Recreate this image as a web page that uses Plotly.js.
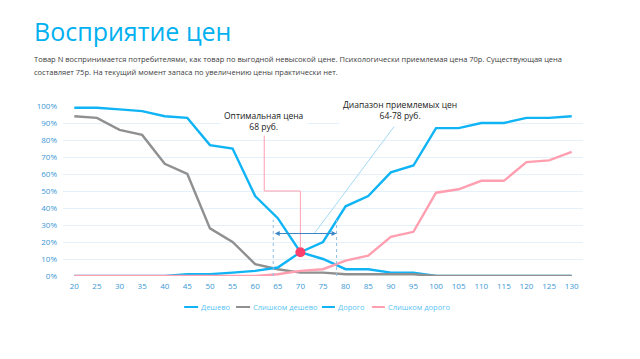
<!DOCTYPE html>
<html>
<head>
<meta charset="utf-8">
<script src="https://cdn.plot.ly/plotly-3.0.1.min.js"></script>
<style>
  html, body { margin: 0; padding: 0; background: #fff; }
  #chart { width: 640px; height: 359px; }
</style>
</head>
<body>
<div id="chart"></div>
<script>
// Price points (rubles)
const prices = [20, 25, 30, 35, 40, 45, 50, 55, 60, 65, 70, 75, 80, 85, 90, 95, 100, 105, 110, 115, 120, 125, 130];

// Share of respondents, %
const cheap        = [99, 99, 98, 97, 94, 93, 77, 75, 47, 34, 14, 10, 4, 4, 2, 2, 0, 0, 0, 0, 0, 0, 0];
const tooCheap     = [94, 93, 86, 83, 66, 60, 28, 20, 7, 4, 2, 2, 1, 1, 1, 1, 0, 0, 0, 0, 0, 0, 0];
const expensive    = [0, 0, 0, 0, 0, 1, 1, 2, 3, 5, 14, 20, 41, 47, 61, 65, 87, 87, 90, 90, 93, 93, 94];
const tooExpensive = [0, 0, 0, 0, 0, 0, 0, 0, 0, 1, 3, 4, 9, 12, 23, 26, 49, 51, 56, 56, 67, 68, 73];

const seriesNames  = ['Дешево', 'Слишком дешево', 'Дорого', 'Слишком дорого'];
const seriesColors = ['#10b4f5', '#909090', '#10b4f5', '#ff9fb0'];

// Key price points
const optimalPrice = 68;
const optimalPointX = 70;
const optimalPointY = 14;
const rangeLow = 64;
const rangeHigh = 78;

const pct = a => a.map(v => v / 100);
const seriesValues = [cheap, tooCheap, expensive, tooExpensive];

const traces = seriesValues.map((vals, i) => ({
  x: prices, y: pct(vals), name: seriesNames[i], mode: 'lines',
  line: { color: seriesColors[i], width: 2.4 }, cliponaxis: false, showlegend: false
}));
traces.push({
  x: [optimalPointX], y: [optimalPointY / 100], mode: 'markers', showlegend: false,
  marker: { color: '#ff3f6c', size: 10 }, cliponaxis: false, hoverinfo: 'skip'
});

// plot area geometry (pixels)
const plotL = 62.7, plotW = 520.7, plotB = 276, plotH = 170;
const px = v => (v - plotL) / plotW;
const py = v => (plotB - v) / plotH;

const tickBlue = '#3a97d4';

// compact legend: short line swatch + label
const legendItems = [
  { x0: 184, x1: 198, tx: 199 },
  { x0: 236, x1: 250, tx: 251 },
  { x0: 322, x1: 335, tx: 336.5 },
  { x0: 372, x1: 385, tx: 386.5 }
];
const legendY = 307;
const legendShapes = legendItems.map((it, i) => ({
  type: 'line', xref: 'paper', yref: 'paper',
  x0: px(it.x0), x1: px(it.x1), y0: py(legendY), y1: py(legendY),
  line: { color: seriesColors[i], width: 2 }
}));
const legendLabels = legendItems.map((it, i) => ({
  xref: 'paper', yref: 'paper', x: px(it.tx), y: py(legendY),
  xanchor: 'left', yanchor: 'middle', showarrow: false,
  text: seriesNames[i], font: { size: 7.5, color: '#58c4f2' }
}));

// description under the heading
const descriptionLines = [
  'Товар N воспринимается потребителями, как товар по выгодной невысокой цене. Психологически приемлемая цена 70р. Существующая цена',
  'составляет 75р. На текущий момент запаса по увеличению цены практически нет.'
];
const descriptionY = [58.5, 72];
const descriptionLabels = descriptionLines.map((t, i) => ({
  xref: 'paper', yref: 'paper', x: px(32), y: py(descriptionY[i]),
  xanchor: 'left', yanchor: 'middle', align: 'left', showarrow: false,
  text: t, font: { size: 7.5, color: '#404040', family: 'Open Sans, sans-serif' }
}));

const layout = {
  width: 640,
  height: 359,
  margin: { l: plotL, r: 640 - plotL - plotW, t: 106, b: 359 - plotB },
  paper_bgcolor: '#ffffff',
  plot_bgcolor: '#ffffff',
  font: { family: 'Open Sans, sans-serif' },
  showlegend: false,
  xaxis: {
    range: [17.5, 132.5],
    tickmode: 'array',
    tickvals: prices,
    ticktext: prices.map(String),
    showgrid: false,
    zeroline: false,
    showline: false,
    ticks: '',
    tickfont: { size: 8, color: tickBlue },
    ticklabelstandoff: 4
  },
  yaxis: {
    range: [0, 1],
    tickmode: 'array',
    tickvals: [0, 0.1, 0.2, 0.3, 0.4, 0.5, 0.6, 0.7, 0.8, 0.9, 1],
    ticktext: ['0%', '10%', '20%', '30%', '40%', '50%', '60%', '70%', '80%', '90%', '100%'],
    showgrid: true,
    gridcolor: '#e4f1fb',
    gridwidth: 1,
    zeroline: false,
    showline: false,
    ticks: '',
    tickfont: { size: 8, color: tickBlue },
    ticklabelstandoff: 5
  },
  shapes: [
    // range bounds
    { type: 'line', xref: 'x', yref: 'y', x0: rangeLow, x1: rangeLow, y0: 0, y1: 0.33,
      line: { color: '#8fbfe3', width: 1, dash: 'dot' } },
    { type: 'line', xref: 'x', yref: 'y', x0: rangeHigh, x1: rangeHigh, y0: 0, y1: 0.33,
      line: { color: '#8fbfe3', width: 1, dash: 'dot' } },
    // leader to the range label
    { type: 'line', xref: 'x', yref: 'y', x0: 73.1, y0: 0.251, x1: 90.7, y1: 0.878,
      line: { color: '#8ecff0', width: 0.8 } },
    // leader to the optimal price label
    { type: 'path', xref: 'x', yref: 'y',
      path: 'M 62,0.85 L 62,0.5 L 70,0.5 L 70,0.17',
      line: { color: '#ff9fb0', width: 1 } }
  ].concat(legendShapes),
  annotations: [
    {
      xref: 'paper', yref: 'paper', x: px(32), y: py(31),
      xanchor: 'left', yanchor: 'middle', showarrow: false,
      text: 'Восприятие цен',
      font: { size: 25, color: '#00b0f0', family: 'Open Sans, sans-serif' }
    },
    {
      xref: 'x', yref: 'y', x: 62, y: 0.91, xanchor: 'center', yanchor: 'middle',
      showarrow: false, bgcolor: '#ffffff', borderpad: 3,
      text: 'Оптимальная цена<br>' + optimalPrice + ' руб.',
      font: { size: 8.5, color: '#222222' }
    },
    {
      xref: 'x', yref: 'y', x: 92, y: 0.975, xanchor: 'center', yanchor: 'middle',
      showarrow: false, bgcolor: '#ffffff', borderpad: 3,
      text: 'Диапазон приемлемых цен<br>' + rangeLow + '-' + rangeHigh + ' руб.',
      font: { size: 8.5, color: '#222222' }
    },
    {
      xref: 'x', yref: 'y', axref: 'x', ayref: 'y',
      x: rangeHigh, y: 0.25, ax: rangeLow, ay: 0.25,
      text: '', showarrow: true, arrowside: 'end+start',
      arrowhead: 2, arrowsize: 1, arrowwidth: 1, arrowcolor: '#3d86c6',
      standoff: 0, startstandoff: 0
    }
  ].concat(descriptionLabels, legendLabels)
};

Plotly.newPlot('chart', traces, layout, { displayModeBar: false, staticPlot: true });
</script>
</body>
</html>
